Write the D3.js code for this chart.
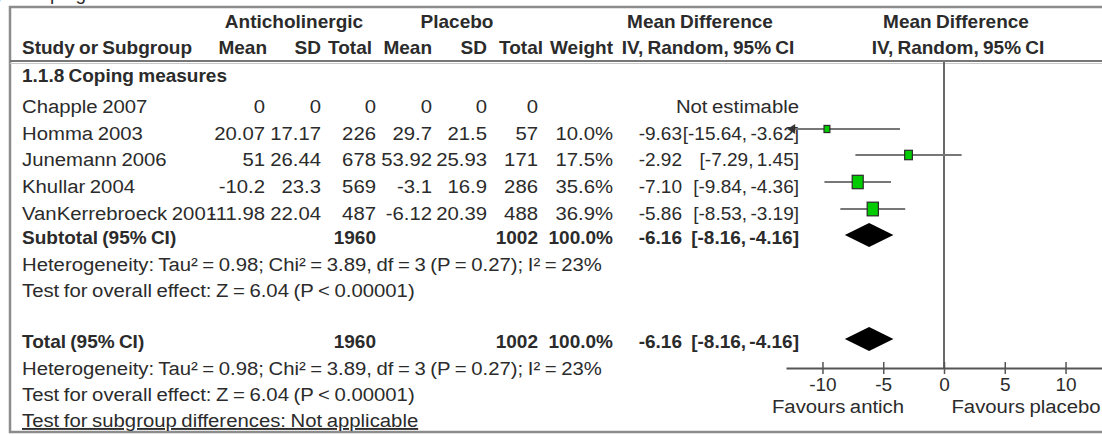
<!DOCTYPE html>
<html>
<head>
<meta charset="utf-8">
<script src="https://cdn.jsdelivr.net/npm/d3@7"></script>
<style>
body { margin: 0; background: #fff; }
svg text { font-family: "Liberation Sans", Arial, sans-serif; fill: #2b2b2b; font-size: 19px; word-spacing: -1px; }
svg text.b { font-weight: bold; }
svg text.md { word-spacing: -2px; }
</style>
</head>
<body>
<svg id="forest" width="1102" height="435"></svg>
<script>
// study level data
var studies   = ["Chapple 2007", "Homma 2003", "Junemann 2006", "Khullar 2004", "VanKerrebroeck 2001"];
var antiMean  = [0, 20.07, 51, -10.2, -11.98];
var antiSD    = [0, 17.17, 26.44, 23.3, 22.04];
var antiTotal = [0, 226, 678, 569, 487];
var placMean  = [0, 29.7, 53.92, -3.1, -6.12];
var placSD    = [0, 21.5, 25.93, 16.9, 20.39];
var placTotal = [0, 57, 171, 286, 488];
var weights   = [null, 10.0, 17.5, 35.6, 36.9];
var md        = [null, -9.63, -2.92, -7.10, -5.86];
var ciLow     = [null, -15.64, -7.29, -9.84, -8.53];
var ciHigh    = [null, -3.62, 1.45, -4.36, -3.19];

// pooled rows
var summaryLabels = ["Subtotal (95% CI)", "Total (95% CI)"];
var summaryAnti   = [1960, 1960];
var summaryPlac   = [1002, 1002];
var summaryWeight = [100.0, 100.0];
var summaryMD     = [-6.16, -6.16];
var summaryLow    = [-8.16, -8.16];
var summaryHigh   = [-4.16, -4.16];

var axisTicks = [-10, -5, 0, 5, 10];
var hetText = "Heterogeneity: Tau\u00b2 = 0.98; Chi\u00b2 = 3.89, df = 3 (P = 0.27); I\u00b2 = 23%";
var effectText = "Test for overall effect: Z = 6.04 (P < 0.00001)";

var svg = d3.select("#forest");

// layout: baselines of each text row
var studyY = [113, 140, 166, 193, 220];
var summaryY = [244, 348];
var axisY = 368;

var x = d3.scaleLinear().domain([-13, 13]).range([786, 1102]);

var col = {name: 22, aMean: 265, aSD: 321, aTot: 376, pMean: 432, pSD: 487, pTot: 538, wt: 613, est: 682, ci: 799};

// outer frame and header rules
svg.append("rect")
    .attr("x", 10).attr("y", 7).attr("width", 1110).attr("height", 425)
    .attr("fill", "none").attr("stroke", "#8c8c8c").attr("stroke-width", 2.5);
svg.append("line")
    .attr("x1", 10).attr("x2", 1102).attr("y1", 61).attr("y2", 61)
    .attr("stroke", "#777").attr("stroke-width", 2);
svg.append("line")
    .attr("x1", 10).attr("x2", 1102).attr("y1", 63.5).attr("y2", 63.5)
    .attr("stroke", "#c8c8c8").attr("stroke-width", 1);

// caption cut off at the top
svg.append("text").attr("x", -25).attr("y", 0).text("Fig. 3 Coping");

// plain text is drawn a little wider than the bold headers, as in the source image
function txt(xp, yp, s, anchor, cls) {
  var t = svg.append("text")
      .attr("text-anchor", anchor || "start")
      .attr("class", cls || null)
      .text(s);
  if (!cls) {
    t.attr("transform", "translate(" + xp + "," + yp + ") scale(1.07,1)");
  } else {
    t.attr("x", xp).attr("y", yp);
  }
  return t;
}

// headers
txt(294, 28, "Anticholinergic", "middle", "b");
txt(457, 28, "Placebo", "middle", "b");
txt(700, 28, "Mean Difference", "middle", "b");
txt(956, 28, "Mean Difference", "middle", "b");
txt(col.name, 54, "Study or Subgroup", "start", "b");
txt(267, 54, "Mean", "end", "b");
txt(col.aSD, 54, "SD", "end", "b");
txt(372, 54, "Total", "end", "b");
txt(col.pMean, 54, "Mean", "end", "b");
txt(col.pSD, 54, "SD", "end", "b");
txt(543, 54, "Total", "end", "b");
txt(col.wt, 54, "Weight", "end", "b");
txt(708, 54, "IV, Random, 95% CI", "middle", "b");
txt(958, 54, "IV, Random, 95% CI", "middle", "b");

txt(col.name, 82, "1.1.8 Coping measures", "start", "b");

// study rows
studies.forEach(function(s, i) {
  var y = studyY[i];
  txt(col.name, y, s);
  txt(col.aMean, y, String(antiMean[i]), "end");
  txt(col.aSD, y, String(antiSD[i]), "end");
  txt(col.aTot, y, String(antiTotal[i]), "end");
  txt(col.pMean, y, String(placMean[i]), "end");
  txt(col.pSD, y, String(placSD[i]), "end");
  txt(col.pTot, y, String(placTotal[i]), "end");
  if (md[i] === null) {
    txt(col.ci, y, "Not estimable", "end");
  } else {
    txt(col.wt, y, weights[i].toFixed(1) + "%", "end");
    txt(col.est, y, md[i].toFixed(2), "end", "md");
    txt(col.ci, y, "[" + ciLow[i].toFixed(2) + ", " + ciHigh[i].toFixed(2) + "]", "end", "md");
  }
});

// summary rows
summaryLabels.forEach(function(s, i) {
  var y = summaryY[i];
  txt(col.name, y, s, "start", "b");
  txt(col.aTot, y, String(summaryAnti[i]), "end", "b");
  txt(col.pTot, y, String(summaryPlac[i]), "end", "b");
  txt(col.wt, y, summaryWeight[i].toFixed(1) + "%", "end", "b");
  txt(col.est, y, summaryMD[i].toFixed(2), "end", "b md");
  txt(col.ci, y, "[" + summaryLow[i].toFixed(2) + ", " + summaryHigh[i].toFixed(2) + "]", "end", "b md");
});

txt(col.name, 271, hetText);
txt(col.name, 297, effectText);
txt(col.name, 375, hetText);
txt(col.name, 401, effectText);
txt(col.name, 427, "Test for subgroup differences: Not applicable")
    .attr("text-decoration", "underline");

// plot: line of no effect
svg.append("line")
    .attr("x1", x(0)).attr("x2", x(0)).attr("y1", 62).attr("y2", axisY)
    .attr("stroke", "#6a6a6a").attr("stroke-width", 2);

// confidence intervals
var plotted = d3.range(studies.length).filter(function(i) { return md[i] !== null; });
var lo = x.domain()[0];
function markY(i) { return studyY[i] - 11; }

svg.selectAll(".ci")
  .data(plotted)
  .enter().append("line")
    .attr("class", "ci")
    .attr("x1", function(i) { return x(Math.max(ciLow[i], lo + 0.3)); })
    .attr("x2", function(i) { return x(ciHigh[i]); })
    .attr("y1", markY)
    .attr("y2", markY)
    .attr("stroke", "#777").attr("stroke-width", 2);

// arrow where interval runs off the scale
svg.selectAll(".arrow")
  .data(plotted.filter(function(i) { return ciLow[i] < lo; }))
  .enter().append("path")
    .attr("class", "arrow")
    .attr("d", function(i) {
      var cy = markY(i), ax = x(lo + 0.1);
      return "M" + ax + "," + cy + "L" + (ax + 8) + "," + (cy - 5) + "L" + (ax + 8) + "," + (cy + 5) + "Z";
    })
    .attr("fill", "#333");

// weight boxes
svg.selectAll(".box")
  .data(plotted)
  .enter().append("rect")
    .attr("class", "box")
    .attr("width", function(i) { return 0.82 * 2.25 * Math.sqrt(weights[i]); })
    .attr("height", function(i) { return 2.25 * Math.sqrt(weights[i]); })
    .attr("x", function(i) { return x(md[i]) - 0.41 * 2.25 * Math.sqrt(weights[i]); })
    .attr("y", function(i) { return markY(i) - 1.125 * Math.sqrt(weights[i]); })
    .attr("fill", "#00cc00").attr("stroke", "#2a2a2a").attr("stroke-width", 1.2);

// pooled diamonds
svg.selectAll(".diamond")
  .data(d3.range(summaryLabels.length))
  .enter().append("path")
    .attr("class", "diamond")
    .attr("d", function(i) {
      var cy = summaryY[i] - 9;
      return "M" + x(summaryLow[i]) + "," + cy +
             "L" + x(summaryMD[i]) + "," + (cy - 12) +
             "L" + x(summaryHigh[i]) + "," + cy +
             "L" + x(summaryMD[i]) + "," + (cy + 12) + "Z";
    })
    .attr("fill", "#000");

// axis
var axis = svg.append("g")
    .attr("transform", "translate(0," + axisY + ")")
    .call(d3.axisBottom(x).tickValues(axisTicks).tickSize(6).tickSizeOuter(0).tickFormat(d3.format("d")));
axis.select(".domain").attr("stroke", "#555").attr("stroke-width", 2);
axis.selectAll(".tick line").attr("stroke", "#555").attr("stroke-width", 1.5).attr("y1", -6);
axis.selectAll(".tick text")
    .attr("y", 10).attr("dy", "0.71em")
    .style("font-size", "19px").style("font-family", "'Liberation Sans', Arial, sans-serif")
    .attr("fill", "#2b2b2b")
    .text(function(d) { return d < 0 ? "-" + Math.abs(d) : d; });

txt(838, 413, "Favours antich", "middle");
txt(1026, 413, "Favours placebo", "middle");
</script>
</body>
</html>
